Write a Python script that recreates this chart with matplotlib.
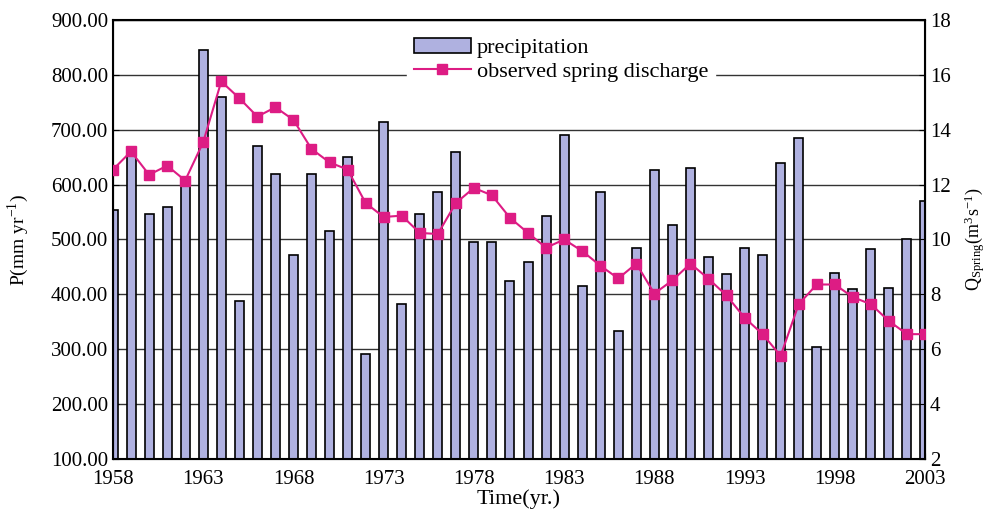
import matplotlib
matplotlib.use("Agg")
import matplotlib.pyplot as plt
from matplotlib.ticker import FormatStrFormatter

# ── Data ──────────────────────────────────────────────────────────────────────
years = list(range(1958, 2004))
precip = [553, 658, 547, 560, 601, 845, 759, 388, 671, 620,
          471, 620, 516, 651, 291, 715, 382, 547, 587, 660,
          496, 496, 425, 459, 542, 691, 415, 587, 333, 485,
          627, 526, 630, 468, 438, 485, 471, 640, 685, 305,
          439, 409, 482, 411, 500, 570]
discharge = [12.55, 13.21, 12.36, 12.69, 12.15, 13.55, 15.76, 15.15, 14.48, 14.82,
             14.36, 13.30, 12.81, 12.55, 11.33, 10.82, 10.87, 10.24, 10.20, 11.33,
             11.88, 11.61, 10.79, 10.24, 9.70, 10.00, 9.58, 9.05, 8.58, 9.12,
             8.03, 8.51, 9.12, 8.57, 7.96, 7.15, 6.55, 5.76, 7.64, 8.36,
             8.36, 7.90, 7.64, 7.03, 6.55, 6.55]
label_years = list(range(1958, 2004, 5))

BAR = "#AFB1E0"
LINE = "#DD1C84"
GRID = "#333333"

plt.rcParams["font.family"] = ["Liberation Serif", "DejaVu Serif"]
plt.rcParams["mathtext.fontset"] = "stix"

fig = plt.figure(figsize=(9.92, 5.11), dpi=100)
ax = fig.add_axes([113 / 992, 1 - 459 / 511, (925 - 113) / 992, (459 - 20) / 511])

ax.bar(years, precip, width=0.5, color=BAR, edgecolor="black", linewidth=1.2,
       zorder=2, label="precipitation")
ax.set_xlim(1958, 2003)
ax.set_ylim(100, 900)
ax.set_yticks(range(100, 901, 100))
ax.yaxis.set_major_formatter(FormatStrFormatter("%.2f"))
ax.yaxis.grid(True, color=GRID, linewidth=1.0, zorder=0)
ax.set_axisbelow(True)

ax.set_xticks(years)
ax.set_xticklabels([str(y) if y in label_years else "" for y in years])
ax.tick_params(axis="x", direction="in", length=4, labelsize=15, pad=8)
ax.tick_params(axis="y", direction="in", length=4, labelsize=15)
for s in ax.spines.values():
    s.set_linewidth(1.5)

ax.set_xlabel("Time(yr.)", fontsize=16, labelpad=0)
ax.set_ylabel(r"P(mm yr$^{\mathregular{-1}}$)", fontsize=14, labelpad=14)

ax2 = ax.twinx()
ax2.plot(years, discharge, color=LINE, marker="s", markersize=7, linewidth=1.5,
         label="observed spring discharge", zorder=3)
ax2.set_ylim(2, 18)
ax2.set_yticks(range(2, 19, 2))
ax2.tick_params(axis="y", direction="in", length=4, labelsize=15)
ax2.set_ylabel(r"Q$_{\mathregular{Spring}}$(m$^{\mathregular{3}}$s$^{\mathregular{-1}}$)",
               fontsize=13, labelpad=9)

h1, l1 = ax.get_legend_handles_labels()
h2, l2 = ax2.get_legend_handles_labels()
leg = ax2.legend(h1 + h2, l1 + l2, loc="upper left", bbox_to_anchor=(0.362, 0.975),
                 frameon=True, fontsize=16, handlelength=2.6, handletextpad=0.25,
                 labelspacing=0.15, borderpad=0.3, borderaxespad=0)
leg.get_frame().set_facecolor("white")
leg.get_frame().set_edgecolor("white")
leg.get_frame().set_alpha(1)

fig.savefig("out.png", dpi=100)
